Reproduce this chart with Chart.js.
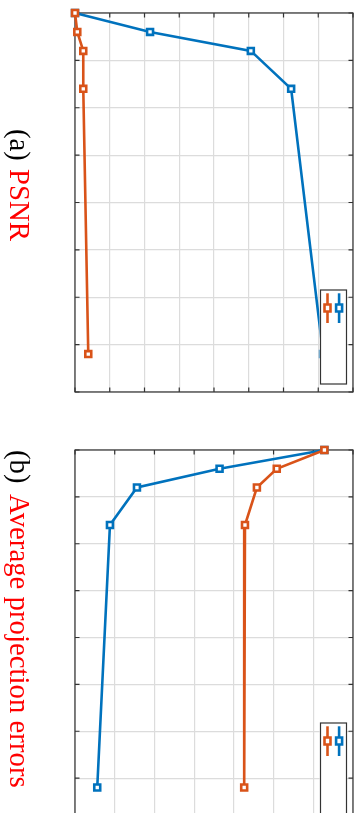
<!DOCTYPE html>
<html>
<head>
<meta charset="utf-8">
<script src="https://cdn.jsdelivr.net/npm/chart.js@4.4.1/dist/chart.umd.min.js"></script>
<style>
  html, body { margin: 0; padding: 0; background: #fff; }
  body { position: relative; width: 360px; height: 813px; overflow: hidden; }
  canvas { position: absolute; left: 0; }
  .cap {
    position: absolute;
    transform-origin: 0 0;
    transform: rotate(90deg);
    white-space: nowrap;
    font-family: 'Liberation Serif', 'DejaVu Serif', serif;
    font-size: 28.8px;
    line-height: 29px;
  }
  .tag { color: #000; }
  .name { color: #f00; }
</style>
</head>
<body>
<canvas id="psnr" width="360" height="400" style="top:0"></canvas>
<canvas id="err" width="360" height="435" style="top:400px"></canvas>
<div class="cap tag" style="left:34px; top:129px">(a)</div>
<div class="cap name" style="left:34px; top:169px">PSNR</div>
<div class="cap tag" style="left:34px; top:450px">(b)</div>
<div class="cap name" style="left:34px; top:494px">Average projection errors</div>
<script>
// Levels along the vertical axis (top to bottom) and its grid
const levels = [0, 20, 40, 80, 360];
const levelAxis = [0, 400, 50];          // min, max, step

// (a) PSNR for the two methods
const psnrA = [0, 10.8, 25.3, 31.1, 35.7];
const psnrB = [0, 0.33, 1.19, 1.19, 1.91];
const psnrAxis = [0, 40, 5];

// (b) average projection errors for the two methods
const errA = [3.14, 1.82, 0.78, 0.44, 0.28];
const errB = [3.14, 2.54, 2.29, 2.14, 2.13];
const errAxis = [0, 3.5, 0.5];

const BLUE = '#0072BD';
const ORANGE = '#D95319';
const FRAME = '#333333';
const GRID = '#dcdcdc';

function points(values) {
  return levels.map((lv, i) => ({ x: values[i], y: lv }));
}

function series(values, color, order) {
  return {
    data: points(values),
    showLine: true,
    borderColor: color,
    borderWidth: 2.6,
    backgroundColor: '#ffffff',
    pointStyle: 'rect',
    pointRadius: 4.2,
    pointHoverRadius: 4.2,
    pointBorderWidth: 2.6,
    pointBorderColor: color,
    pointBackgroundColor: '#ffffff',
    tension: 0,
    clip: false,
    order: order
  };
}

// Box around the plot area with inward tick marks on all four sides
const framePlugin = {
  id: 'frame',
  beforeDatasetsDraw(chart) {
    const { ctx, chartArea: a, scales: { x, y } } = chart;
    ctx.save();
    ctx.strokeStyle = FRAME;
    ctx.lineWidth = 1.2;
    ctx.strokeRect(a.left, a.top, a.right - a.left, a.bottom - a.top);
    const len = 4.5;
    ctx.beginPath();
    x.ticks.forEach(t => {
      const px = x.getPixelForValue(t.value);
      ctx.moveTo(px, a.top); ctx.lineTo(px, a.top + len);
      ctx.moveTo(px, a.bottom); ctx.lineTo(px, a.bottom - len);
    });
    y.ticks.forEach(t => {
      const py = y.getPixelForValue(t.value);
      ctx.moveTo(a.left, py); ctx.lineTo(a.left + len, py);
      ctx.moveTo(a.right, py); ctx.lineTo(a.right - len, py);
    });
    ctx.stroke();
    ctx.restore();
  }
};

// Legend box in the lower right corner: one short line sample with its marker per series
const sampleLegend = {
  id: 'sampleLegend',
  afterDatasetsDraw(chart) {
    const { ctx, chartArea: a } = chart;
    const w = 26, h = 94;
    const right = a.right - 6.5, bottom = a.bottom - 8;
    const left = right - w, top = bottom - h;
    ctx.save();
    ctx.fillStyle = '#ffffff';
    ctx.fillRect(left - 1, top, w + 1, h);
    ctx.strokeStyle = FRAME;
    ctx.lineWidth = 1.2;
    ctx.strokeRect(left, top, w, h);
    chart.data.datasets.forEach((ds, i) => {
      const cx = right - 7.4 - i * 11.6;
      const cy = top + 18;
      ctx.strokeStyle = ds.borderColor;
      ctx.lineWidth = 2.6;
      ctx.beginPath();
      ctx.moveTo(cx, top + 3.3);
      ctx.lineTo(cx, top + 33);
      ctx.stroke();
      const sw = 6, sh = 7;
      ctx.fillStyle = '#ffffff';
      ctx.lineWidth = 2.6;
      ctx.beginPath();
      ctx.rect(cx - sw / 2, cy - sh / 2, sw, sh);
      ctx.fill();
      ctx.stroke();
    });
    ctx.restore();
  }
};

function build(id, a, b, axis, pad) {
  return new Chart(document.getElementById(id), {
    type: 'scatter',
    data: { datasets: [series(a, BLUE, 2), series(b, ORANGE, 1)] },
    options: {
      responsive: false,
      animation: false,
      devicePixelRatio: 1,
      layout: { padding: { left: 75, right: 7, top: pad.top, bottom: pad.bottom } },
      plugins: { legend: { display: false }, tooltip: { enabled: false } },
      scales: {
        x: {
          type: 'linear',
          min: axis[0], max: axis[1],
          ticks: { display: false, stepSize: axis[2] },
          grid: { color: GRID, lineWidth: 1.2, drawTicks: false },
          border: { display: false }
        },
        y: {
          type: 'linear',
          reverse: true,
          min: levelAxis[0], max: levelAxis[1],
          ticks: { display: false, stepSize: levelAxis[2] },
          grid: { color: GRID, lineWidth: 1.2, drawTicks: false },
          border: { display: false }
        }
      }
    },
    plugins: [framePlugin, sampleLegend]
  });
}

build('psnr', psnrA, psnrB, psnrAxis, { top: 13, bottom: 8 });
build('err', errA, errB, errAxis, { top: 50, bottom: 10 });
</script>
</body>
</html>
